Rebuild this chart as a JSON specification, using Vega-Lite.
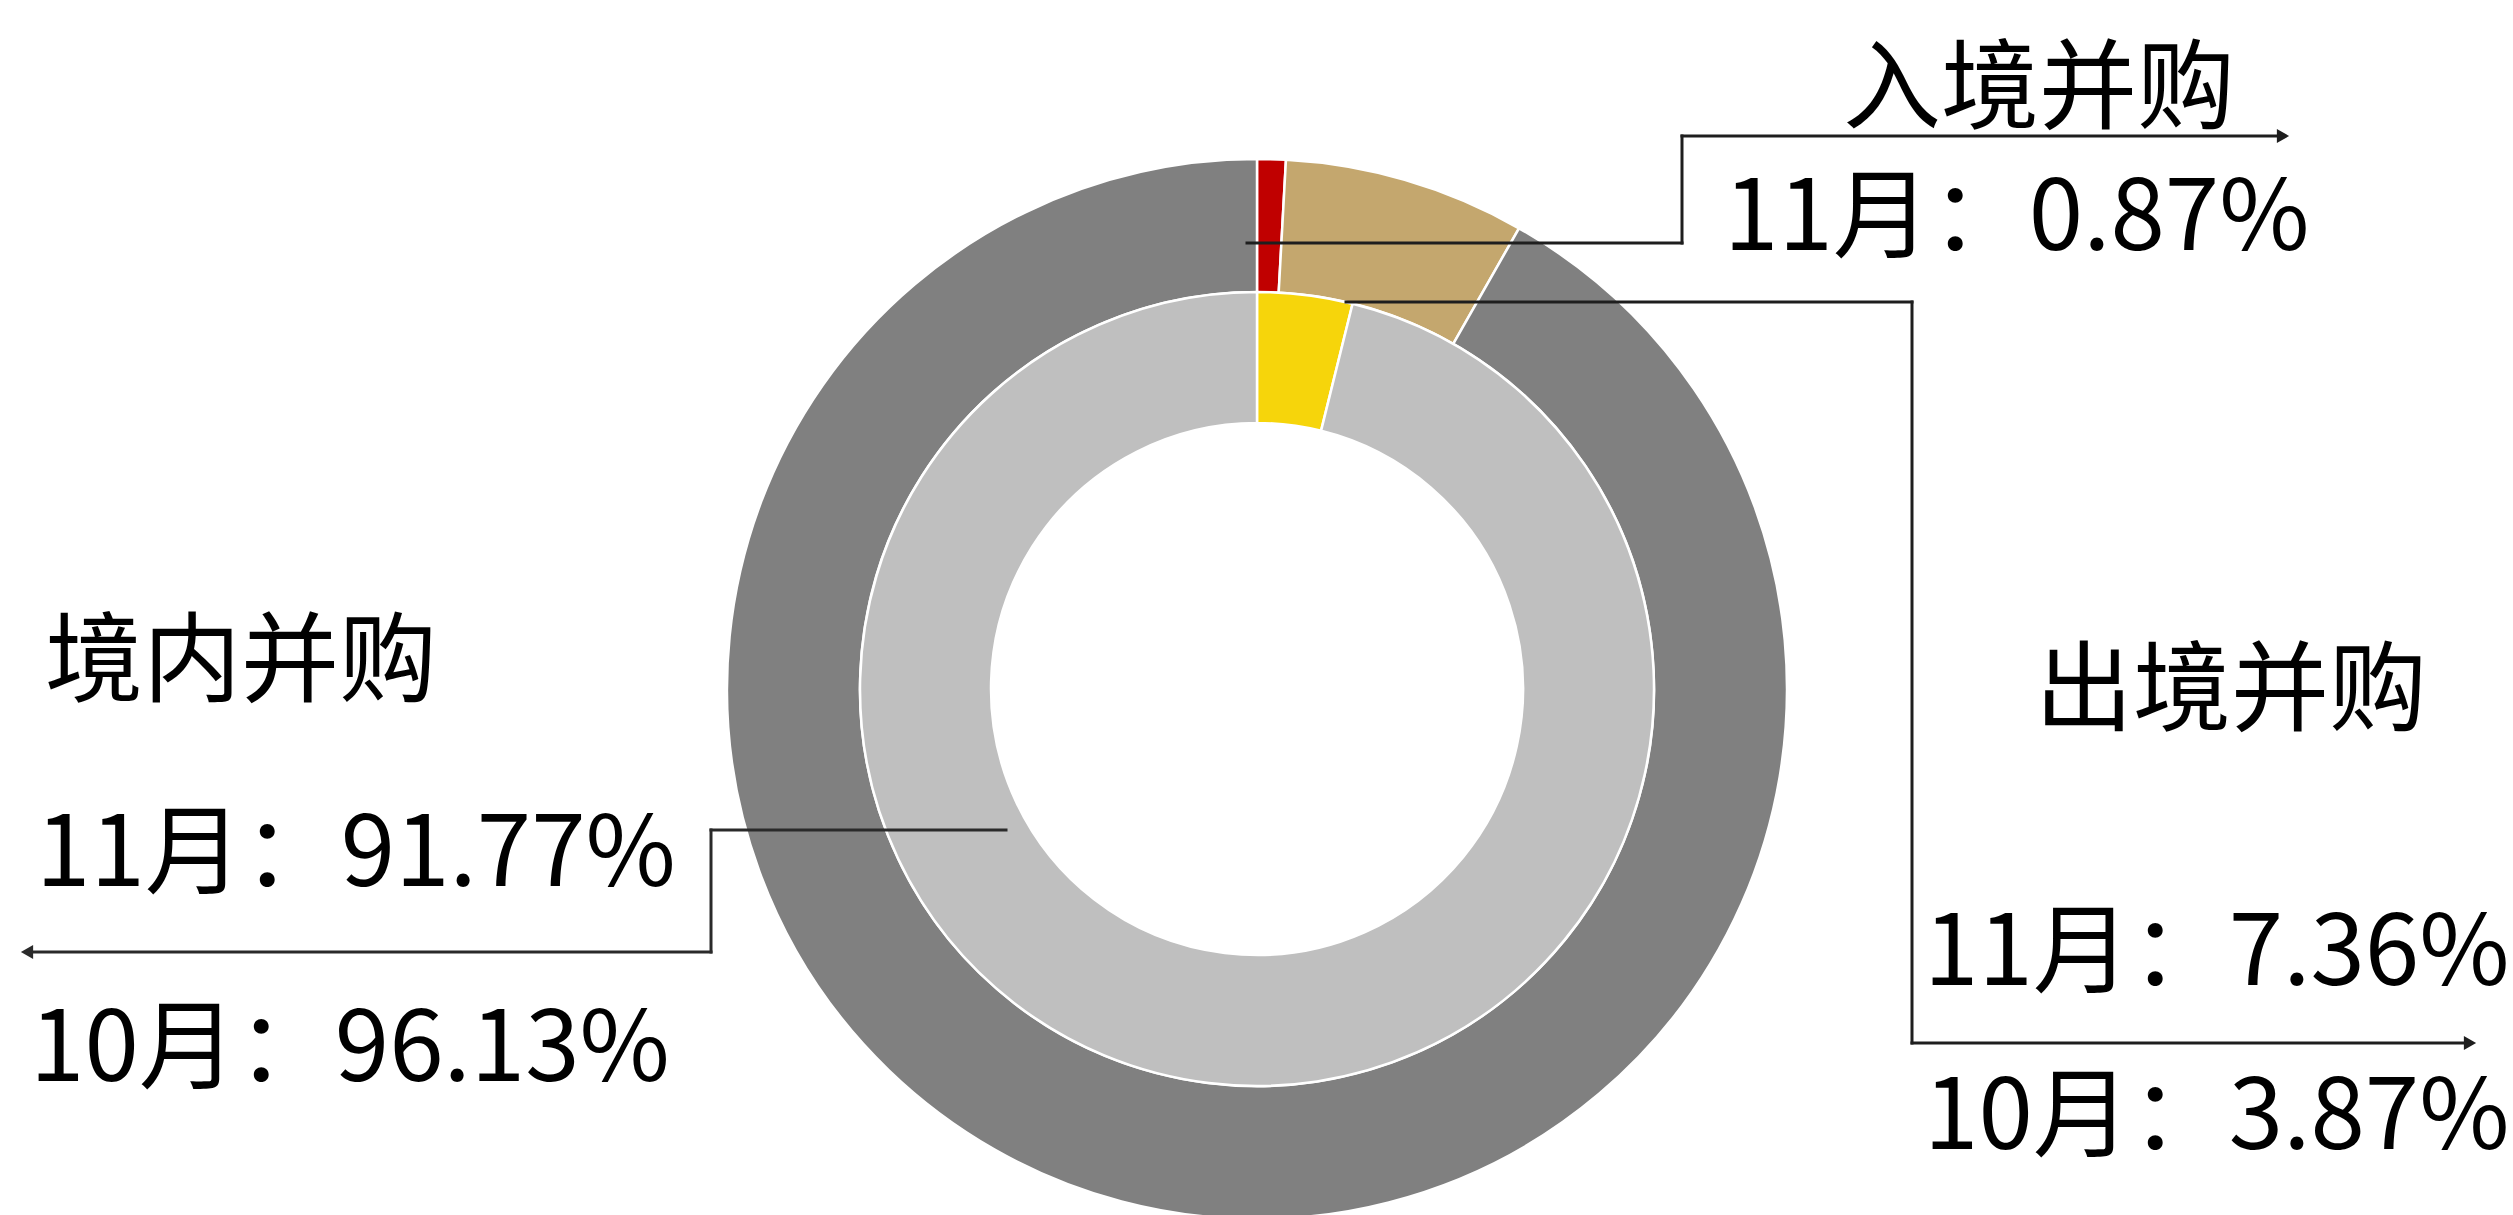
{
  "$schema": "https://vega.github.io/schema/vega-lite/v6.json",
  "width": 2513,
  "height": 1215,
  "autosize": {"type": "none"},
  "padding": 0,
  "background": "white",
  "config": {"view": {"stroke": null}, "font": "Noto Sans CJK SC"},
  "datasets": {
    "shares": [
      {"month": "11月", "type": "入境并购", "value": 0.87, "ord": 1},
      {"month": "11月", "type": "出境并购", "value": 7.36, "ord": 2},
      {"month": "11月", "type": "境内并购", "value": 91.77, "ord": 3},
      {"month": "10月", "type": "出境并购", "value": 3.87, "ord": 2},
      {"month": "10月", "type": "境内并购", "value": 96.13, "ord": 3}
    ],
    "anchor": [{}]
  },
  "data": {"name": "shares"},
  "layer": [
    {
      "transform": [{"filter": "datum.month === '11月'"}, {"calculate": "datum.month + datum.type", "as": "key"}],
      "mark": {"type": "arc", "radius": 530, "radius2": 397, "stroke": "white", "strokeWidth": 2.5},
      "encoding": {
        "theta": {"field": "value", "type": "quantitative", "stack": true, "scale": {"domain": [0, 100]}},
        "order": {"field": "ord", "type": "quantitative"},
        "color": {"field": "key", "type": "nominal", "legend": null, "scale": {"domain": ["11月入境并购", "11月出境并购", "11月境内并购", "10月出境并购", "10月境内并购"], "range": ["#C00000", "#C4A76E", "#808080", "#F6D50B", "#BFBFBF"]}},
        "x": {"datum": 0, "type": "quantitative", "scale": {"domain": [-1257, 1256], "nice": false}, "axis": null},
        "y": {"datum": 0, "type": "quantitative", "scale": {"domain": [-526, 689], "nice": false}, "axis": null}
      }
    },
    {
      "transform": [{"filter": "datum.month === '10月'"}, {"calculate": "datum.month + datum.type", "as": "key"}],
      "mark": {"type": "arc", "radius": 397, "radius2": 266, "stroke": "white", "strokeWidth": 2.5},
      "encoding": {
        "theta": {"field": "value", "type": "quantitative", "stack": true, "scale": {"domain": [0, 100]}},
        "order": {"field": "ord", "type": "quantitative"},
        "color": {"field": "key", "type": "nominal", "legend": null, "scale": {"domain": ["11月入境并购", "11月出境并购", "11月境内并购", "10月出境并购", "10月境内并购"], "range": ["#C00000", "#C4A76E", "#808080", "#F6D50B", "#BFBFBF"]}},
        "x": {"datum": 0, "type": "quantitative", "scale": {"domain": [-1257, 1256], "nice": false}, "axis": null},
        "y": {"datum": 0, "type": "quantitative", "scale": {"domain": [-526, 689], "nice": false}, "axis": null}
      }
    },
    {
      "data": {"name": "anchor"},
      "layer": [
        {"mark": {"type": "rule", "color": "#1e1e1e", "strokeWidth": 3, "strokeCap": "square"},
         "encoding": {"x": {"datum": -10, "type": "quantitative", "scale": {"domain": [-1257, 1256], "nice": false}, "axis": null}, "y": {"datum": 446, "type": "quantitative", "scale": {"domain": [-526, 689], "nice": false}, "axis": null}, "x2": {"datum": 425}, "y2": {"datum": 446}}},
        {"mark": {"type": "rule", "color": "#1e1e1e", "strokeWidth": 3, "strokeCap": "square"},
         "encoding": {"x": {"datum": 425, "type": "quantitative", "scale": {"domain": [-1257, 1256], "nice": false}, "axis": null}, "y": {"datum": 446, "type": "quantitative", "scale": {"domain": [-526, 689], "nice": false}, "axis": null}, "x2": {"datum": 425}, "y2": {"datum": 553}}},
        {"mark": {"type": "rule", "color": "#1e1e1e", "strokeWidth": 3, "strokeCap": "square"},
         "encoding": {"x": {"datum": 425, "type": "quantitative", "scale": {"domain": [-1257, 1256], "nice": false}, "axis": null}, "y": {"datum": 553, "type": "quantitative", "scale": {"domain": [-526, 689], "nice": false}, "axis": null}, "x2": {"datum": 1024}, "y2": {"datum": 553}}},
        {"mark": {"type": "point", "shape": "triangle-right", "filled": true, "size": 200, "color": "#1e1e1e", "opacity": 1},
         "encoding": {"x": {"datum": 1026, "type": "quantitative", "scale": {"domain": [-1257, 1256], "nice": false}, "axis": null}, "y": {"datum": 553, "type": "quantitative", "scale": {"domain": [-526, 689], "nice": false}, "axis": null}}},
        {"mark": {"type": "rule", "color": "#1e1e1e", "strokeWidth": 3, "strokeCap": "square"},
         "encoding": {"x": {"datum": 89, "type": "quantitative", "scale": {"domain": [-1257, 1256], "nice": false}, "axis": null}, "y": {"datum": 387, "type": "quantitative", "scale": {"domain": [-526, 689], "nice": false}, "axis": null}, "x2": {"datum": 655}, "y2": {"datum": 387}}},
        {"mark": {"type": "rule", "color": "#1e1e1e", "strokeWidth": 3, "strokeCap": "square"},
         "encoding": {"x": {"datum": 655, "type": "quantitative", "scale": {"domain": [-1257, 1256], "nice": false}, "axis": null}, "y": {"datum": 387, "type": "quantitative", "scale": {"domain": [-526, 689], "nice": false}, "axis": null}, "x2": {"datum": 655}, "y2": {"datum": -354}}},
        {"mark": {"type": "rule", "color": "#1e1e1e", "strokeWidth": 3, "strokeCap": "square"},
         "encoding": {"x": {"datum": 655, "type": "quantitative", "scale": {"domain": [-1257, 1256], "nice": false}, "axis": null}, "y": {"datum": -354, "type": "quantitative", "scale": {"domain": [-526, 689], "nice": false}, "axis": null}, "x2": {"datum": 1211}, "y2": {"datum": -354}}},
        {"mark": {"type": "point", "shape": "triangle-right", "filled": true, "size": 200, "color": "#1e1e1e", "opacity": 1},
         "encoding": {"x": {"datum": 1213, "type": "quantitative", "scale": {"domain": [-1257, 1256], "nice": false}, "axis": null}, "y": {"datum": -354, "type": "quantitative", "scale": {"domain": [-526, 689], "nice": false}, "axis": null}}},
        {"mark": {"type": "rule", "color": "#2a2a2a", "strokeWidth": 3, "strokeCap": "square"},
         "encoding": {"x": {"datum": -251, "type": "quantitative", "scale": {"domain": [-1257, 1256], "nice": false}, "axis": null}, "y": {"datum": -141, "type": "quantitative", "scale": {"domain": [-526, 689], "nice": false}, "axis": null}, "x2": {"datum": -546}, "y2": {"datum": -141}}},
        {"mark": {"type": "rule", "color": "#2a2a2a", "strokeWidth": 3, "strokeCap": "square"},
         "encoding": {"x": {"datum": -546, "type": "quantitative", "scale": {"domain": [-1257, 1256], "nice": false}, "axis": null}, "y": {"datum": -141, "type": "quantitative", "scale": {"domain": [-526, 689], "nice": false}, "axis": null}, "x2": {"datum": -546}, "y2": {"datum": -263}}},
        {"mark": {"type": "rule", "color": "#2a2a2a", "strokeWidth": 3, "strokeCap": "square"},
         "encoding": {"x": {"datum": -546, "type": "quantitative", "scale": {"domain": [-1257, 1256], "nice": false}, "axis": null}, "y": {"datum": -263, "type": "quantitative", "scale": {"domain": [-526, 689], "nice": false}, "axis": null}, "x2": {"datum": -1228}, "y2": {"datum": -263}}},
        {"mark": {"type": "point", "shape": "triangle-left", "filled": true, "size": 200, "color": "#2a2a2a", "opacity": 1},
         "encoding": {"x": {"datum": -1230, "type": "quantitative", "scale": {"domain": [-1257, 1256], "nice": false}, "axis": null}, "y": {"datum": -263, "type": "quantitative", "scale": {"domain": [-526, 689], "nice": false}, "axis": null}}}
      ]
    },
    {
      "transform": [{"filter": "datum.month === '11月' && datum.type === '入境并购'"}],
      "mark": {"type": "text", "fontSize": 98, "align": "left", "baseline": "alphabetic", "color": "black"},
      "encoding": {"text": {"field": "type"}, "x": {"datum": 586, "type": "quantitative", "scale": {"domain": [-1257, 1256], "nice": false}, "axis": null}, "y": {"datum": 568, "type": "quantitative", "scale": {"domain": [-526, 689], "nice": false}, "axis": null}}
    },
    {
      "transform": [{"filter": "datum.month === '11月' && datum.type === '入境并购'"}, {"calculate": "datum.month + '：' + format(datum.value, '.2f') + '%'", "as": "label"}],
      "mark": {"type": "text", "fontSize": 98, "align": "left", "baseline": "alphabetic", "color": "black"},
      "encoding": {"text": {"field": "label"}, "x": {"datum": 467, "type": "quantitative", "scale": {"domain": [-1257, 1256], "nice": false}, "axis": null}, "y": {"datum": 439, "type": "quantitative", "scale": {"domain": [-526, 689], "nice": false}, "axis": null}}
    },
    {
      "transform": [{"filter": "datum.month === '11月' && datum.type === '出境并购'"}],
      "mark": {"type": "text", "fontSize": 98, "align": "left", "baseline": "alphabetic", "color": "black"},
      "encoding": {"text": {"field": "type"}, "x": {"datum": 778, "type": "quantitative", "scale": {"domain": [-1257, 1256], "nice": false}, "axis": null}, "y": {"datum": -34, "type": "quantitative", "scale": {"domain": [-526, 689], "nice": false}, "axis": null}}
    },
    {
      "transform": [{"filter": "datum.month === '11月' && datum.type === '出境并购'"}, {"calculate": "datum.month + '：' + format(datum.value, '.2f') + '%'", "as": "label"}],
      "mark": {"type": "text", "fontSize": 98, "align": "left", "baseline": "alphabetic", "color": "black"},
      "encoding": {"text": {"field": "label"}, "x": {"datum": 667, "type": "quantitative", "scale": {"domain": [-1257, 1256], "nice": false}, "axis": null}, "y": {"datum": -296, "type": "quantitative", "scale": {"domain": [-526, 689], "nice": false}, "axis": null}}
    },
    {
      "transform": [{"filter": "datum.month === '10月' && datum.type === '出境并购'"}, {"calculate": "datum.month + '：' + format(datum.value, '.2f') + '%'", "as": "label"}],
      "mark": {"type": "text", "fontSize": 98, "align": "left", "baseline": "alphabetic", "color": "black"},
      "encoding": {"text": {"field": "label"}, "x": {"datum": 667, "type": "quantitative", "scale": {"domain": [-1257, 1256], "nice": false}, "axis": null}, "y": {"datum": -460, "type": "quantitative", "scale": {"domain": [-526, 689], "nice": false}, "axis": null}}
    },
    {
      "transform": [{"filter": "datum.month === '11月' && datum.type === '境内并购'"}],
      "mark": {"type": "text", "fontSize": 98, "align": "left", "baseline": "alphabetic", "color": "black"},
      "encoding": {"text": {"field": "type"}, "x": {"datum": -1212, "type": "quantitative", "scale": {"domain": [-1257, 1256], "nice": false}, "axis": null}, "y": {"datum": -5, "type": "quantitative", "scale": {"domain": [-526, 689], "nice": false}, "axis": null}}
    },
    {
      "transform": [{"filter": "datum.month === '11月' && datum.type === '境内并购'"}, {"calculate": "datum.month + '：' + format(datum.value, '.2f') + '%'", "as": "label"}],
      "mark": {"type": "text", "fontSize": 98, "align": "left", "baseline": "alphabetic", "color": "black"},
      "encoding": {"text": {"field": "label"}, "x": {"datum": -1221, "type": "quantitative", "scale": {"domain": [-1257, 1256], "nice": false}, "axis": null}, "y": {"datum": -197, "type": "quantitative", "scale": {"domain": [-526, 689], "nice": false}, "axis": null}}
    },
    {
      "transform": [{"filter": "datum.month === '10月' && datum.type === '境内并购'"}, {"calculate": "datum.month + '：' + format(datum.value, '.2f') + '%'", "as": "label"}],
      "mark": {"type": "text", "fontSize": 98, "align": "left", "baseline": "alphabetic", "color": "black"},
      "encoding": {"text": {"field": "label"}, "x": {"datum": -1227, "type": "quantitative", "scale": {"domain": [-1257, 1256], "nice": false}, "axis": null}, "y": {"datum": -392, "type": "quantitative", "scale": {"domain": [-526, 689], "nice": false}, "axis": null}}
    }
  ]
}
